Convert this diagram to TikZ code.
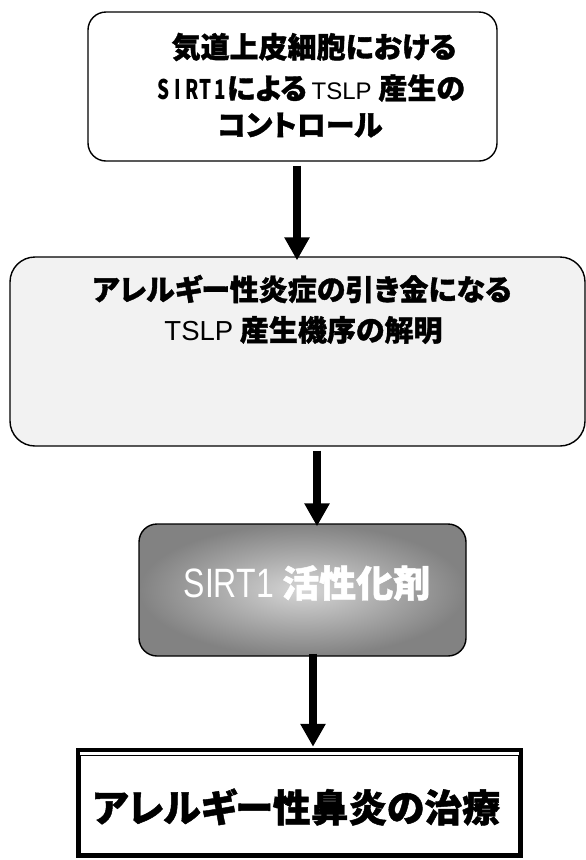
\documentclass[tikz,border=0pt]{standalone}
\usepackage{fontspec}
\setmainfont{Liberation Sans}
\newfontfamily\jp{Noto Sans CJK JP}[RawFeature=+palt, BoldFeatures={FakeBold=1.2}]
\newfontfamily\jpmono{Noto Sans CJK JP}
\usetikzlibrary{arrows.meta}
\definecolor{boxgray}{HTML}{F2F2F2}
\definecolor{shadein}{HTML}{D6D6D6}
\definecolor{shadeout}{HTML}{828282}
\newcommand{\hw}[1]{\makebox[14pt][c]{\scalebox{0.7}[1]{#1}}}
\begin{document}
\begin{tikzpicture}[x=1pt,y=-1pt,
  flowbox/.style={draw=black, line width=1.4pt, rounded corners=18pt, inner sep=0pt},
  bigarrow/.style={line width=8pt, -{Triangle[width=24pt,length=23pt]}},
  jptext/.style={font=\jp\bfseries\fontsize{29}{34}\selectfont, inner sep=0pt, anchor=center}]
\useasboundingbox (0,0) rectangle (586,860);
\fill[white] (0,0) rectangle (586,860);

% box 1
\node[flowbox, fill=white, minimum width=409pt, minimum height=149pt] (b1) at (292.5,86.5) {};
\node[jptext] (t1a) at (314,47) {気道上皮細胞における};
\node[jptext] (t1b) at (311,88) {{\jpmono\bfseries\fontsize{27}{30}\selectfont\hw{S}\hw{I}\hw{R}\hw{T}\hw{1}}による\,{\rmfamily\mdseries\fontsize{24}{28}\selectfont TSLP} 産生の};
\node[jptext] (t1c) at (300,125) {コントロール};

% box 2
\node[flowbox, fill=boxgray, rounded corners=25pt, minimum width=575pt, minimum height=189pt] (b2) at (297.5,351.5) {};
\node[jptext] (t2a) at (302,289) {アレルギー性炎症の引き金になる};
\node[jptext] (t2b) at (303.5,330) {{\rmfamily\mdseries\fontsize{27.5}{30}\selectfont TSLP} 産生機序の解明};

% box 3
\node[flowbox, inner color=shadein, outer color=shadeout, minimum width=327pt, minimum height=132pt] (b3) at (302.5,590) {};
\node[jptext, text=white, font=\jp\bfseries\fontsize{37}{40}\selectfont] (t3) at (307,583) {{\rmfamily\mdseries\fontsize{41}{42}\selectfont\scalebox{0.78}[1]{SIRT1}} 活性化剤};

% box 4 (thick-thin double frame)
\node[draw=black, line width=4.5pt, fill=white, inner sep=0pt, minimum width=443pt, minimum height=106pt] (b4) at (299.5,803) {};
\draw[line width=1.3pt] ([shift={(5pt,-7.5pt)}]b4.north west) rectangle ([shift={(-4.5pt,4.5pt)}]b4.south east);
\node[jptext, font=\jp\bfseries\fontsize{38}{40}\selectfont] (t4) at (296.5,807) {アレルギー性鼻炎の治療};

% arrows
\coordinate (x1) at (297,0);
\coordinate (x2) at (317,0);
\coordinate (x3) at (313,0);
\draw[bigarrow] ([yshift=-4pt]b1.south -| x1) -- ([yshift=-4pt]b2.north -| x1);
\draw[bigarrow] ([yshift=-4pt]b2.south -| x2) -- ([yshift=-3pt]b3.north -| x2);
\draw[bigarrow] ([yshift=3pt]b3.south -| x3) -- ([yshift=1pt]b4.north -| x3);
\end{tikzpicture}
\end{document}
